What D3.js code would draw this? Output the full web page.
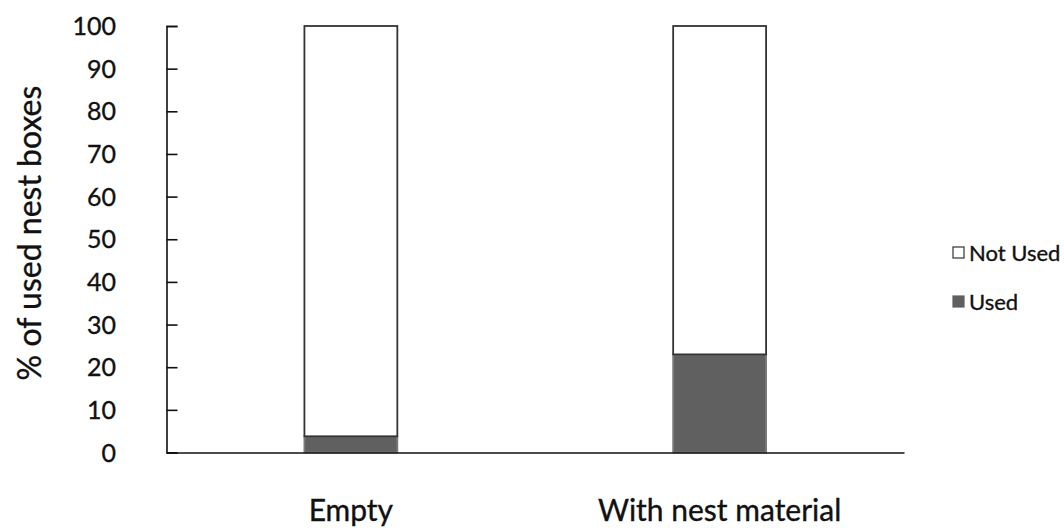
<!DOCTYPE html>
<html>
<head>
<meta charset="utf-8">
<script src="https://cdn.jsdelivr.net/npm/d3@7"></script>
<style>
  html, body { margin: 0; padding: 0; background: #fff; }
  svg { display: block; font-family: Lato, "Open Sans", sans-serif; }
</style>
</head>
<body>
<svg id="chart" width="1064" height="528"></svg>
<script>
const categories = ["Empty", "With nest material"];
const usedValues = [3.8, 23];
const notUsedValues = [96.2, 77];
const seriesNames = ["Used", "Not Used"];
const yTicks = [0, 10, 20, 30, 40, 50, 60, 70, 80, 90, 100];
const yTitle = "% of used nest boxes";

(function () {
const svg = d3.select("#chart");
const mLeft = 166.5, mRight = 904, mTop = 26, mBottom = 452.5;

const x = d3.scaleBand().domain(categories).range([mLeft, mRight]).padding(0);
const y = d3.scaleLinear().domain([0, 100]).range([mBottom, mTop]);
const barW = x.bandwidth() * 0.252;

const data = categories.map((c, i) => ({ cat: c, Used: usedValues[i], "Not Used": notUsedValues[i] }));
const stack = d3.stack().keys(seriesNames)(data);
const fills = { "Used": "#606060", "Not Used": "#ffffff" };
const strokes = { "Used": "#7a7a7a", "Not Used": "#333333" };

const g = svg.append("g");
stack.forEach(layer => {
  g.selectAll(null).data(layer).enter().append("rect")
    .attr("x", d => x(d.data.cat) + (x.bandwidth() - barW) / 2)
    .attr("y", d => y(d[1]))
    .attr("width", barW)
    .attr("height", d => y(d[0]) - y(d[1]))
    .attr("fill", fills[layer.key])
    .attr("stroke", strokes[layer.key])
    .attr("stroke-width", 1.8);
});

const yAxis = d3.axisRight(y).tickValues(yTicks).tickSize(11).tickFormat("");
const yg = svg.append("g").attr("transform", `translate(${mLeft},0)`).call(yAxis);
yg.select(".domain").attr("stroke", "#111").attr("stroke-width", 1.6);
yg.selectAll(".tick line").attr("stroke", "#111").attr("stroke-width", 1.6);

const txt = sel => sel.attr("fill", "#111").attr("stroke", "#111").attr("stroke-width", 0.35);

svg.append("g").selectAll("text").data(yTicks).enter().append("text")
  .attr("x", 116)
  .attr("y", d => y(d))
  .attr("dy", "0.36em")
  .attr("text-anchor", "end")
  .attr("font-size", 25)
  .call(txt)
  .text(d => d);

const xAxis = d3.axisBottom(x).tickSize(0).tickFormat("");
const xg = svg.append("g").attr("transform", `translate(0,${mBottom})`).call(xAxis);
xg.select(".domain").attr("stroke", "#111").attr("stroke-width", 1.6);

svg.append("g").selectAll("text").data(categories).enter().append("text")
  .attr("x", d => x(d) + x.bandwidth() / 2)
  .attr("y", 521)
  .attr("text-anchor", "middle")
  .attr("font-size", 30)
  .call(txt)
  .text(d => d);

svg.append("text")
  .attr("transform", `translate(41,233) rotate(-90)`)
  .attr("text-anchor", "middle")
  .attr("font-size", 32)
  .call(txt)
  .text(yTitle);

const legendItems = ["Not Used", "Used"];
const leg = svg.append("g");
legendItems.forEach((k, i) => {
  const cy = 253 + i * 49;
  leg.append("rect")
    .attr("x", 953).attr("y", cy - 6).attr("width", 11).attr("height", 11)
    .attr("fill", fills[k]).attr("stroke", k === "Used" ? fills[k] : "#333").attr("stroke-width", 1.2);
  leg.append("text")
    .attr("x", 969).attr("y", cy).attr("dy", "0.36em")
    .attr("font-size", 22)
    .call(txt)
    .text(k);
});
})();
</script>
</body>
</html>
